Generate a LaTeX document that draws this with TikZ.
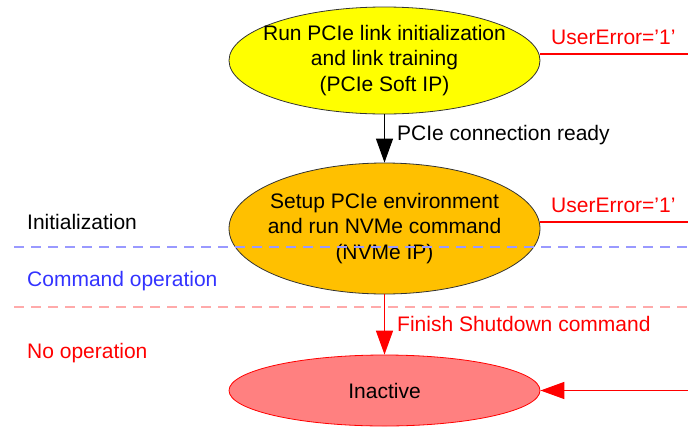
\documentclass[tikz,border=0pt]{standalone}
\usepackage{fontspec}
\setmainfont{Liberation Sans}
\usetikzlibrary{shapes.geometric,arrows.meta}
\definecolor{myyellow}{HTML}{FFFF00}
\definecolor{myorange}{HTML}{FFC000}
\definecolor{mypink}{HTML}{FF8080}
\definecolor{myred}{HTML}{FF0000}
\definecolor{myblue}{HTML}{3333FF}
\definecolor{dashblue}{HTML}{9999FF}
\definecolor{dashred}{HTML}{FFAAAA}
\tikzset{
  state/.style={ellipse, draw=black!80, line width=0.8pt, inner sep=0pt, minimum width=311pt},
  stxt/.style={inner sep=0pt, align=center, font=\fontsize{21}{25.5}\selectfont},
  lbl/.style={anchor=west, inner sep=0pt, font=\fontsize{21}{25.5}\selectfont},
  blk/.style={draw=black, line width=1.2pt, -{Triangle[length=24pt,width=17pt]}},
  redarrow/.style={draw=myred, line width=1.5pt, -{Triangle[length=24pt,width=17pt]}},
  redline/.style={draw=myred, line width=1.5pt},
  sep/.style={line width=1.2pt, dash pattern=on 10pt off 7pt}
}
\begin{document}
\begin{tikzpicture}[x=1pt,y=-1pt]
\useasboundingbox (0,0) rectangle (688,426);
% states
\node[state, fill=myyellow, minimum height=107pt] (e1) at (384.5,60.5) {};
\node[stxt] (e1t) at (e1.center) {Run PCIe link initialization\\and link training\\(PCIe Soft IP)};
\node[state, fill=myorange, minimum height=131pt] (e2) at (384.5,228.5) {};
\node[stxt] (e2t) at (e2.center) {Setup PCIe environment\\and run NVMe command\\(NVMe IP)};
\node[state, fill=mypink, draw=myred, minimum height=71pt] (e3) at (384.5,390.5) {};
\node[stxt] (e3t) at (e3.center) {Inactive};
% separators
\coordinate (b1) at (14,247);
\coordinate (b2) at (688,247);
\coordinate (p1) at (14,307);
\coordinate (p2) at (688,307);
\draw[sep, draw=dashblue] (b1) -- (b2);
\draw[sep, draw=dashred] (p1) -- (p2);
% region labels
\node[lbl] (t1) at (27,222) {Initialization};
\node[lbl, text=myblue] (t2) at (27,281) {Command operation};
\node[lbl, text=myred] (t3) at (27,353) {No operation};
% connectors
\draw[blk] (e1.south) -- (e2.north);
\node[lbl] (c1) at (397,135) {PCIe connection ready};
\draw[redarrow] (e2.south) -- (e3.north);
\node[lbl, text=myred] (c2) at (397,324) {Finish Shutdown command};
\coordinate (r1) at (688,54);
\coordinate (r2) at (688,222);
\coordinate (r3) at (688,390.5);
\draw[redline] (e1.east |- r1) -- (r1);
\draw[redline] (e2.east |- r2) -- (r2);
\draw[redarrow] (r3) -- (e3.east);
\node[lbl, text=myred] (u1) at (551,37) {UserError=’1’};
\node[lbl, text=myred] (u2) at (551,205) {UserError=’1’};
\end{tikzpicture}
\end{document}
